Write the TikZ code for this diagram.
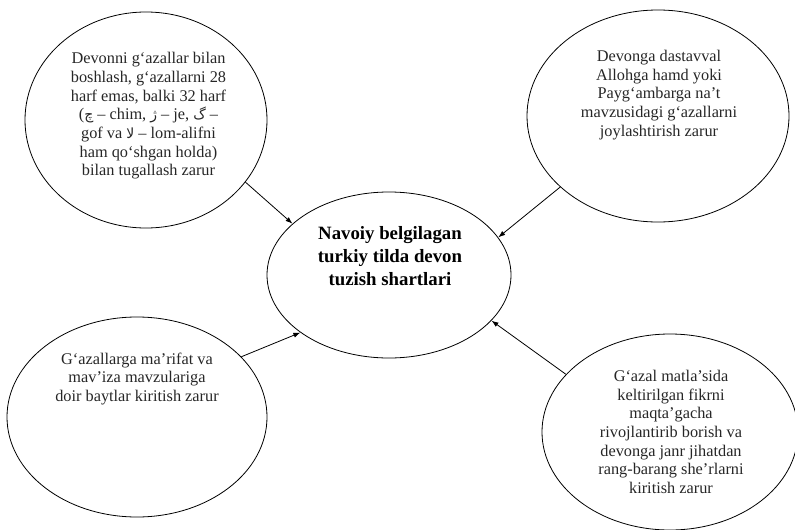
\documentclass[tikz,border=0pt]{standalone}
\usepackage{fontspec}
\setmainfont{Liberation Serif}
\newfontfamily\arabicfont[Script=Arabic]{DejaVu Sans}
\TeXXeTstate=1
\usetikzlibrary{shapes.geometric,arrows.meta}
\newcommand{\arabchar}[1]{{\arabicfont\fontsize{14}{18}\selectfont\beginR #1\endR}}
\begin{document}
\begin{tikzpicture}[x=1pt,y=-1pt,
  oval/.style={draw,ellipse,line width=0.8pt,inner sep=0pt},
  txt/.style={align=center,font=\fontsize{16.3}{18.7}\selectfont,text=black!85},
  cond/.style={arrows=-{Latex[length=7pt,width=5pt]},line width=0.8pt}]
\useasboundingbox (0,0) rectangle (795,530);
% ovals
\node[oval,minimum width=242pt,minimum height=216pt] (TL) at (146,120) {};
\node[oval,minimum width=262pt,minimum height=212pt] (TR) at (658,116) {};
\node[oval,minimum width=244pt,minimum height=166pt] (C) at (389,275) {};
\node[oval,minimum width=260pt,minimum height=200pt] (BL) at (137,417) {};
\node[oval,minimum width=256pt,minimum height=196pt] (BR) at (670,432) {};
% texts
\node[txt] (tTL) at (148.5,116) {Devonni g‘azallar bilan\\ boshlash, g‘azallarni 28\\ harf emas, balki 32 harf\\
  (\arabchar{چ} – chim, \arabchar{ژ} – je, \arabchar{گ} –\\ gof va \arabchar{لا} – lom-alifni\\
  ham qo‘shgan holda)\\ bilan tugallash zarur};
\node[txt] (tTR) at (659,95) {Devonga dastavval\\ Allohga hamd yoki\\ Payg‘ambarga na’t\\
  mavzusidagi g‘azallarni\\ joylashtirish zarur};
\node[txt,font=\fontsize{18.8}{23.3}\selectfont\bfseries,text=black] (tC) at (390,256)
  {Navoiy belgilagan\\ turkiy tilda devon\\ tuzish shartlari};
\node[txt] (tBL) at (137,379) {G‘azallarga ma’rifat va\\ mav’iza mavzulariga\\ doir baytlar kiritish zarur};
\node[txt] (tBR) at (671,432) {G‘azal matla’sida\\ keltirilgan fikrni\\ maqta’gacha\\
  rivojlantirib borish va\\ devonga janr jihatdan\\ rang-barang she’rlarni\\ kiritish zarur};
% arrows
\draw[cond] (TL.-32.8) -- (C.152.7);
\draw[cond] (TR.-144.2) -- (C.19);
\draw[cond] (BL.30.2) -- (C.-147.7);
\draw[cond] (BR.151.2) -- (C.-24.7);
\end{tikzpicture}
\end{document}
